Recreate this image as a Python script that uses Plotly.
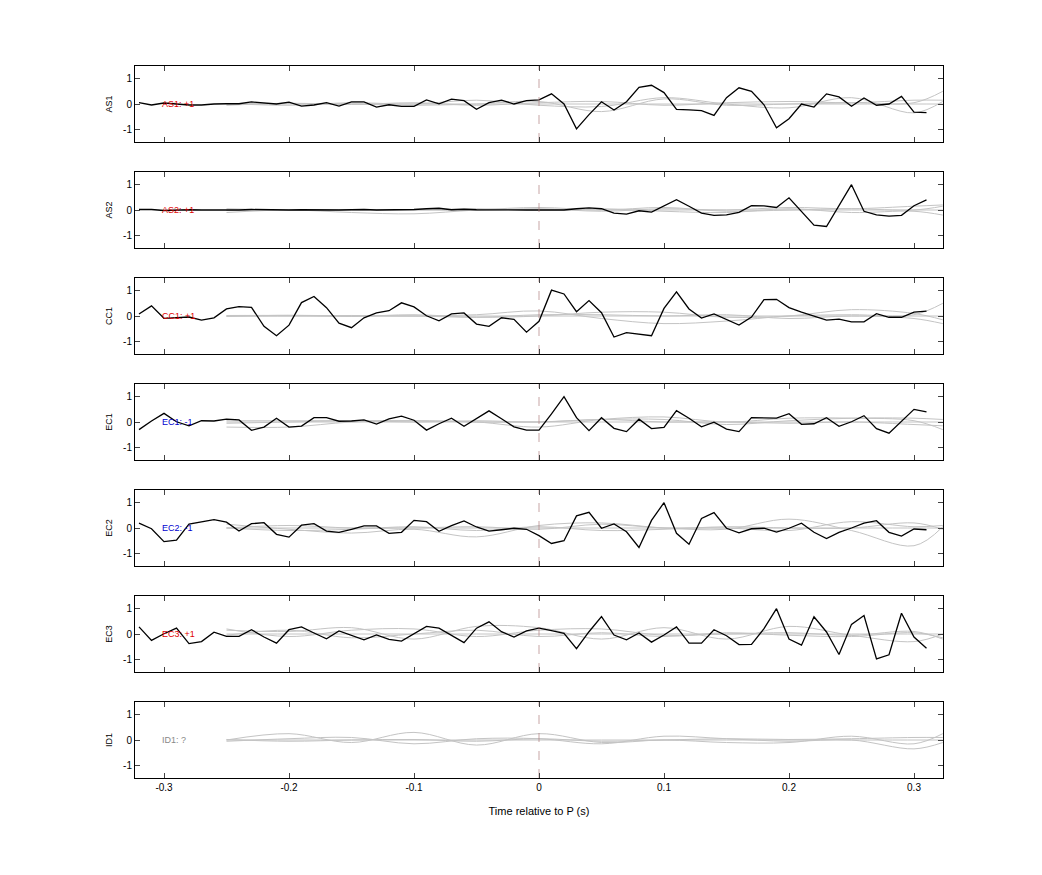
import plotly.graph_objects as go

W, H = 1042, 875
t_black = [round(-0.32 + 0.01*i, 2) for i in range(64)]
t_gray = [-0.25, -0.2, -0.15, -0.1, -0.05, 0.0, 0.05, 0.1, 0.15, 0.2, 0.25, 0.3, 0.323]
x_tickvals = [-0.3, -0.2, -0.1, 0, 0.1, 0.2, 0.3]
x_ticktext = ["-0.3", "-0.2", "-0.1", "0", "0.1", "0.2", "0.3"]
y_tickvals = [-1, 0, 1]
y_ticktext = ["-1", "0", "1"]

names = ["AS1", "AS2", "CC1", "EC1", "EC2", "EC3", "ID1"]
labels = ["AS1: +1", "AS2: +1", "CC1: +1", "EC1: -1", "EC2: -1", "EC3: +1", "ID1: ?"]
label_colors = ["#e00000", "#e00000", "#e00000", "#0000d0", "#0000d0", "#e00000", "#888888"]

AS1 = [0.05,-0.04,0.04,-0.01,-0.04,-0.04,0,0.01,0.01,0.08,0.03,0,0.07,-0.08,-0.04,0.05,-0.08,0.08,0.08,-0.12,-0.03,-0.09,-0.09,
       0.16,0.01,0.19,0.13,-0.21,0.05,0.15,0,0.13,0.16,0.4,0,-0.98,-0.42,0.09,-0.24,0.09,0.66,0.74,0.45,-0.21,-0.23,-0.26,-0.45,
       0.25,0.64,0.5,-0.03,-0.94,-0.58,0,-0.12,0.4,0.28,-0.09,0.24,-0.05,0,0.3,-0.32,-0.34]
AS2 = [0.02,0.02,-0.02,0.0,0.01,0.0,-0.01,-0.01,0.0,0.02,0.01,-0.01,0.0,0.01,0.0,-0.01,0.0,0.01,0.02,0.0,0.01,0.0,0.02,
       0.05,0.07,0.01,0.03,0.01,0.0,0.0,0.01,0.0,0.0,0.0,0.0,0.05,0.08,0.05,-0.12,-0.16,-0.03,-0.08,0.17,0.41,0.15,-0.12,-0.21,
       -0.19,-0.09,0.17,0.16,0.1,0.48,-0.07,-0.6,-0.65,0.19,1.0,-0.05,-0.19,-0.24,-0.21,0.17,0.4,0.49][:64]
CC1 = [0.08,0.4,-0.09,-0.05,-0.04,-0.16,-0.07,0.28,0.37,0.34,-0.41,-0.78,-0.36,0.53,0.77,0.33,-0.28,-0.46,-0.07,0.12,0.21,0.52,0.36,
       0.01,-0.19,0.08,0.12,-0.32,-0.41,-0.07,-0.13,-0.64,-0.21,1.02,0.87,0.17,0.61,0.13,-0.83,-0.66,-0.73,-0.78,0.3,0.95,0.28,-0.08,
       0.08,-0.15,-0.36,-0.04,0.65,0.66,0.33,0.15,-0.01,-0.16,-0.12,-0.23,-0.23,0.09,-0.05,-0.05,0.15,0.19]
EC1 = [-0.3,0.04,0.34,0.01,-0.15,0.05,0.04,0.11,0.08,-0.33,-0.2,0.15,-0.2,-0.16,0.17,0.17,0.03,0.04,0.08,-0.08,0.12,0.23,0.07,
       -0.32,-0.07,0.15,-0.17,0.15,0.44,0.13,-0.19,-0.32,-0.32,0.32,1.0,0.17,-0.34,0.17,-0.25,-0.38,0.11,-0.26,-0.21,0.45,0.15,-0.19,
       -0.01,-0.28,-0.38,0.17,0.17,0.15,0.33,-0.09,-0.07,0.17,-0.17,0.01,0.25,-0.26,-0.44,0.03,0.5,0.4]
EC2 = [0.19,-0.03,-0.54,-0.48,0.15,0.23,0.33,0.23,-0.12,0.17,0.21,-0.25,-0.36,0.11,0.17,-0.12,-0.17,-0.05,0.08,0.08,-0.21,-0.17,0.3,
       0.25,-0.13,0.09,0.28,0.04,-0.12,-0.07,-0.01,-0.05,-0.3,-0.61,-0.5,0.48,0.62,-0.01,0.16,-0.15,-0.77,0.3,1.0,-0.21,-0.64,0.38,
       0.61,-0.01,-0.19,-0.03,-0.01,-0.16,-0.01,0.19,-0.17,-0.42,-0.17,0.0,0.19,0.29,-0.17,-0.32,-0.04,-0.07]
EC3 = [0.28,-0.25,0.01,0.23,-0.38,-0.3,0.07,-0.09,-0.09,0.17,-0.12,-0.36,0.17,0.28,0.04,-0.19,0.12,-0.05,-0.23,-0.04,-0.21,-0.28,0.01,
       0.3,0.23,-0.07,-0.34,0.23,0.48,0.09,-0.12,0.12,0.23,0.13,0.03,-0.58,0.09,0.69,-0.04,-0.23,0.04,-0.32,-0.04,0.28,-0.36,-0.36,
       0.17,-0.07,-0.42,-0.41,0.21,1.0,-0.2,-0.44,0.68,0.08,-0.81,0.38,0.73,-0.98,-0.82,0.82,-0.12,-0.56]
black_series = [AS1, AS2, CC1, EC1, EC2, EC3, None]

gray_series = [
    [[0.0,0.02,0.0,-0.05,0.0,0.1,-0.3,0.2,-0.05,0.0,0.05,0.05,0.5],
     [0.02,-0.05,0.05,0.0,0.15,-0.05,-0.1,0.25,0.0,-0.15,0.25,-0.35,0.1],
     [0.0,0.0,0.0,0.0,0.0,0.0,0.0,0.0,0.0,0.0,0.0,0.0,0.0],
     [-0.05,0.03,-0.02,0.05,-0.05,0.05,0.1,-0.05,0.05,0.1,0.05,0.15,0.15]],
    [[-0.1,0.0,-0.1,-0.15,0.0,0.1,0.0,0.1,-0.05,0.0,0.05,0.0,0.15],
     [0.05,0.0,0.02,0.0,0.05,0.0,0.05,-0.05,-0.1,0.05,-0.1,-0.05,-0.2],
     [0.0,0.0,0.0,0.0,0.0,0.0,0.0,0.0,0.0,0.0,0.0,0.0,0.0],
     [-0.02,0.02,0.0,0.02,-0.02,0.05,-0.05,0.05,0.0,0.1,0.05,0.15,0.2]],
    [[0.0,0.0,0.02,0.0,0.05,0.2,-0.1,-0.3,-0.2,0.0,0.05,0.05,0.5],
     [0.02,0.02,-0.02,0.05,-0.05,0.0,0.15,0.15,-0.05,0.0,0.25,0.1,-0.15],
     [0.0,0.0,0.0,0.0,0.0,0.0,0.0,0.0,0.0,0.0,0.0,0.0,0.0],
     [-0.02,0.03,0.0,0.0,-0.05,0.05,0.05,0.0,0.05,-0.1,0.0,-0.1,-0.3]],
    [[-0.2,-0.2,0.0,0.05,0.0,-0.2,0.1,0.2,0.0,0.15,0.15,0.05,-0.3],
     [0.05,0.05,0.05,0.05,0.0,0.0,0.1,0.1,-0.1,0.05,0.15,0.15,0.1],
     [0.0,0.0,0.0,0.0,0.0,0.0,0.0,0.0,0.0,0.0,0.0,0.0,0.0],
     [-0.05,0.0,0.05,0.0,0.05,0.0,0.1,0.0,0.0,-0.05,0.0,-0.1,-0.15]],
    [[0.15,-0.05,-0.2,-0.05,-0.35,0.1,0.2,0.0,-0.05,0.35,-0.1,-0.7,0.05],
     [0.0,0.1,0.0,0.0,0.05,-0.05,0.15,0.0,0.0,-0.1,0.25,0.05,0.1],
     [0.0,0.0,0.0,0.0,0.0,0.0,0.0,0.0,0.0,0.0,0.0,0.0,0.0],
     [0.0,-0.1,-0.05,0.05,-0.1,0.05,-0.1,-0.05,0.05,0.0,0.0,0.2,-0.05]],
    [[0.15,0.1,0.25,-0.2,0.3,0.25,-0.2,0.25,-0.2,0.3,-0.05,-0.3,0.0],
     [0.2,-0.1,0.15,0.2,-0.1,0.15,0.2,-0.05,0.0,0.05,-0.05,0.1,-0.2],
     [0.0,0.0,0.0,0.0,0.0,0.0,0.0,0.0,0.0,0.0,0.0,0.0,0.0],
     [-0.05,0.15,-0.15,0.0,0.15,-0.1,0.05,-0.1,0.05,-0.05,-0.1,0.05,-0.15]],
    [[0.0,0.25,-0.1,0.3,-0.2,0.25,-0.1,0.0,-0.1,-0.1,0.15,-0.15,0.25],
     [-0.05,0.05,0.1,-0.15,0.05,0.05,-0.15,0.15,0.05,-0.05,0.0,-0.35,-0.1],
     [0.0,0.0,0.0,0.0,0.0,0.0,0.0,0.0,0.0,0.0,0.0,0.0,0.0],
     [0.02,-0.05,0.0,0.02,-0.05,0.05,-0.05,0.0,0.05,0.02,0.05,0.1,0.1]],
]

fig = go.Figure()
font = "Liberation Sans, Arial, sans-serif"
OFF = 8  # page body margin
tops = [66, 172, 278, 384, 490, 596, 702]
ph = 76
x0, x1 = (135-OFF)/W, (943-OFF)/W
for i, nm in enumerate(names):
    ax = "" if i == 0 else str(i+1)
    xa, ya = "x" + ax, "y" + ax
    for g in gray_series[i]:
        fig.add_trace(go.Scatter(x=t_gray, y=g, mode="lines", line=dict(color="#c4c4c4", width=1, shape="spline", smoothing=1.0),
                                 xaxis=xa, yaxis=ya, showlegend=False, hoverinfo="skip"))
    if black_series[i] is not None:
        fig.add_trace(go.Scatter(x=t_black, y=black_series[i], mode="lines", line=dict(color="black", width=1.3),
                                 xaxis=xa, yaxis=ya, showlegend=False))
    fig.add_trace(go.Scatter(x=[0, 0], y=[-1.5, 1.5], mode="lines", line=dict(color="#b08080", width=0.7, dash="dash"),
                             xaxis=xa, yaxis=ya, showlegend=False, hoverinfo="skip"))
    fig.add_annotation(x=-0.303, y=0, xref=xa, yref=ya, text=labels[i], showarrow=False, xanchor="left",
                       font=dict(size=9, color=label_colors[i], family=font))
    top, bot = 1 - (tops[i]-OFF)/H, 1 - (tops[i]-OFF+ph)/H
    last = i == len(names) - 1
    fig.update_layout(**{
        "xaxis" + ax: dict(domain=[x0, x1], range=[-0.3232, 0.3232], anchor=ya, showline=True, mirror="ticks",
                           linecolor="black", linewidth=1, ticks="inside", ticklen=5,
                           tickvals=x_tickvals, ticktext=x_ticktext,
                           showticklabels=last, showgrid=False, zeroline=False,
                           title=dict(text="Time relative to P (s)" if last else "", font=dict(size=11, family=font)),
                           tickfont=dict(size=10, family=font)),
        "yaxis" + ax: dict(domain=[bot, top], range=[-1.5, 1.5], anchor=xa, showline=True, mirror="ticks",
                           linecolor="black", linewidth=1, ticks="inside", ticklen=5,
                           tickvals=y_tickvals, ticktext=y_ticktext,
                           showgrid=False, zeroline=False, tickfont=dict(size=10, family=font),
                           title=dict(text=nm, font=dict(size=9, family=font), standoff=8)),
    })

fig.update_layout(width=W, height=H, margin=dict(l=0, r=0, t=0, b=0), plot_bgcolor="white", paper_bgcolor="white",
                  font=dict(family=font, color="black"))
fig.write_html("out.html")
